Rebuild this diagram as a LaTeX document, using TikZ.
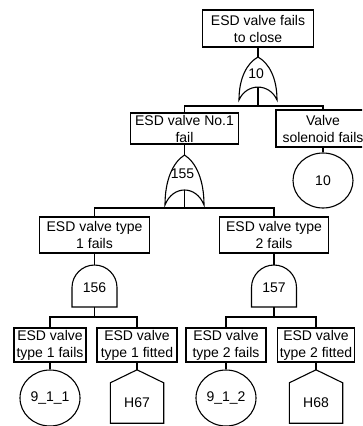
\documentclass[tikz,border=0pt]{standalone}
\usepackage{fontspec}
\setmainfont{Liberation Sans}
\usetikzlibrary{shapes.geometric,calc}

\tikzset{
  ln/.style={line width=1.1pt},
  txt/.style={font=\fontsize{14}{17}\selectfont},
  event/.style={draw, ln, txt, rectangle, align=center, inner sep=1pt},
  basic/.style={draw, ln, txt, ellipse, inner sep=0pt, minimum width=60, minimum height=56},
  housebody/.style={txt, inner sep=0pt, minimum width=53, minimum height=40},
  % OR gate: #1 half width, #2 height, #3 label
  pics/orgate/.style n args={3}{code={
    \draw[ln] (0,0) .. controls ({0.6*#1},{0.15*#2}) and (#1,{0.5*#2}) .. (#1,#2)
      .. controls ({0.6*#1},{0.6*#2}) and ({-0.6*#1},{0.6*#2}) .. (-#1,#2)
      .. controls (-#1,{0.5*#2}) and ({-0.6*#1},{0.15*#2}) .. (0,0) -- cycle;
    \coordinate (-top) at (0,0);
    \coordinate (-bot) at (0,{0.7*#2});
    \node[txt, inner sep=0pt] (-lbl) at ({-0.1*#1},{0.38*#2}) {#3};
  }},
  % AND gate: #1 half width, #2 height, #3 label
  pics/andgate/.style n args={3}{code={
    \draw[ln] (-#1,#2) -- (-#1,#1)
      .. controls (-#1,{0.45*#1}) and ({-0.55*#1},0) .. (0,0)
      .. controls ({0.55*#1},0) and (#1,{0.45*#1}) .. (#1,#1)
      -- (#1,#2) -- cycle;
    \coordinate (-top) at (0,0);
    \coordinate (-bot) at (0,#2);
    \node[txt, inner sep=0pt] (-lbl) at (0,{0.55*#2}) {#3};
  }}
}

\begin{document}
\begin{tikzpicture}[x=1pt,y=-1pt]
\useasboundingbox (0,0) rectangle (362,426);
\clip (0,0) rectangle (362,426);

% events
\node[event, minimum width=111, minimum height=37] (top) at (258,28.5) {ESD valve fails\\to close};
\node[event, minimum width=108, minimum height=31] (no1) at (184.5,128.5) {ESD valve No.1\\fail};
\node[event, minimum width=94, minimum height=37] (sol) at (323,128.5) {Valve\\solenoid fails};
\node[event, minimum width=110, minimum height=36] (t1) at (94.5,235) {ESD valve type\\1 fails};
\node[event, minimum width=109, minimum height=36] (t2) at (274,235) {ESD valve type\\2 fails};
\node[event, minimum width=72, minimum height=34] (b1) at (50,345) {ESD valve\\type 1 fails};
\node[event, minimum width=80, minimum height=34] (b2) at (137,345) {ESD valve\\type 1 fitted};
\node[event, minimum width=80, minimum height=34] (b3) at (226,345) {ESD valve\\type 2 fails};
\node[event, minimum width=77, minimum height=34] (b4) at (316,345) {ESD valve\\type 2 fitted};

% gates
\pic (g10) at (258,57) {orgate={19}{43}{10}};
\pic (g155) at (184.5,155) {orgate={19.5}{50}{155}};
\pic (g156) at (94.5,265) {andgate={22.5}{42}{156}};
\pic (g157) at (274,265) {andgate={22.5}{42}{157}};

% basic events
\node[basic, minimum height=55] (c10) at (323,180.5) {10};
\node[basic] (c911) at (50,398) {9\_1\_1};
\node[basic] (c912) at (226,398) {9\_1\_2};

% house events
\node[housebody] (h67) at (137,403) {H67};
\node[housebody] (h68) at (316,403) {H68};
\foreach \h in {h67,h68}{
  \coordinate (\h-apex) at ($(\h.north)+(0,-13)$);
  \draw[ln] (\h.south west) -- (\h.north west) -- (\h-apex) -- (\h.north east)
    -- (\h.south east) -- cycle;
}

% junction points of the branch bars
\coordinate (j1) at (258,106);
\coordinate (j2) at (184.5,208);
\coordinate (j3) at (94.5,317);
\coordinate (j4) at (274,317);

% connectors
\draw[ln] (top.south) -- (g10-top);
\draw[ln] (g10-bot) -- (j1);
\draw[ln] (no1.north) |- (j1) -| (sol.north);
\draw[ln] (no1.south) -- (g155-top);
\draw[ln] (sol.south) -- (c10.north);
\draw[ln] (g155-bot) -- (j2);
\draw[ln] (t1.north) |- (j2) -| (t2.north);
\draw[ln] (t1.south) -- (g156-top);
\draw[ln] (t2.south) -- (g157-top);
\draw[ln] (g156-bot) -- (j3);
\draw[ln] (g157-bot) -- (j4);
\draw[ln] (b1.north) |- (j3) -| (b2.north);
\draw[ln] (b3.north) |- (j4) -| (b4.north);
\draw[ln] (b1.south) -- (c911.north);
\draw[ln] (b2.south) -- (h67-apex);
\draw[ln] (b3.south) -- (c912.north);
\draw[ln] (b4.south) -- (h68-apex);
\end{tikzpicture}
\end{document}
